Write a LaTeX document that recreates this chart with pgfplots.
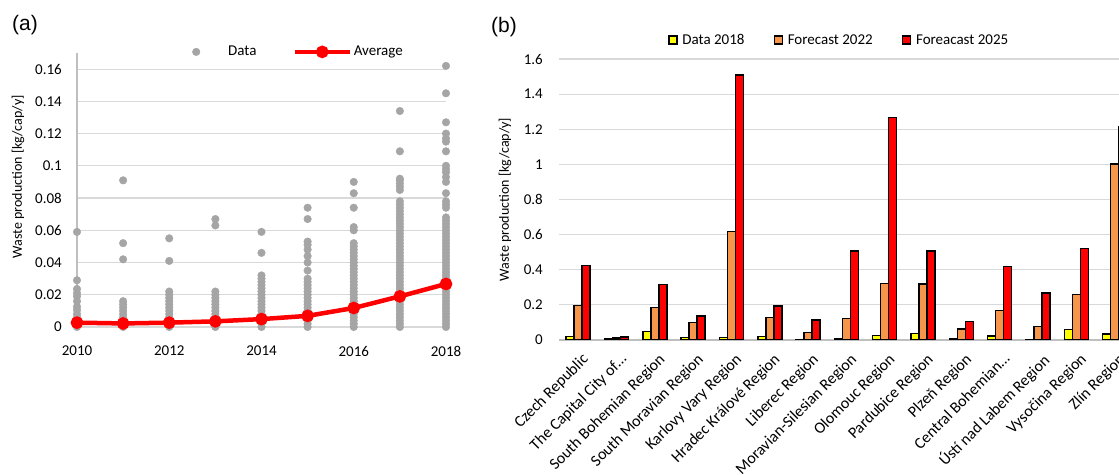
\documentclass[border=0pt]{standalone}
\usepackage{pgfplots}
\pgfplotsset{compat=1.18}
\usepackage{fontspec}
\setmainfont{Carlito}
\newfontfamily\arial{Liberation Sans}
\definecolor{dotgray}{RGB}{165,165,165}
\definecolor{gridgray}{RGB}{217,217,217}
\definecolor{axgray}{RGB}{191,191,191}
\definecolor{xlorange}{RGB}{245,150,75}
\definecolor{xlyellow}{RGB}{255,255,0}
\definecolor{xlred}{RGB}{255,0,0}
\newcommand\tf{\fontsize{15bp}{18bp}\selectfont}

\pgfplotsset{
  sqlegend/.style={legend image code/.code={
      \draw[##1,line width=1.5bp] (0bp,-4bp) rectangle (8bp,4bp);
      \path[draw=none,fill=none] (0bp,0bp) -- (13.5bp,0bp);}},
  datalegend/.style={legend image code/.code={
      \path[draw=none,fill=none] (-5bp,0bp) -- (32bp,0bp);
      \draw[##1] plot coordinates {(0bp,0bp)};}},
  avglegend/.style={legend image code/.code={
      \draw[##1] (0bp,0bp) -- (55bp,0bp);
      \draw[##1] plot coordinates {(27.5bp,0bp)};
      \path[draw=none,fill=none] (0bp,0bp) -- (59bp,0bp);}},
}

\begin{document}
\begin{tikzpicture}
\useasboundingbox (0,0) rectangle (1119bp,475bp);
\clip (0,0) rectangle (1119bp,475bp);

\node[anchor=west,inner sep=0pt] at (12bp,450bp) {\arial\fontsize{21bp}{24bp}\selectfont (a)};
\node[anchor=west,inner sep=0pt] at (491bp,448bp) {\arial\fontsize{21bp}{24bp}\selectfont (b)};

% ---------- (a) scatter ----------
\begin{axis}[
  at={(77bp,148bp)}, anchor=south west,
  scale only axis, width=369bp, height=274bp,
  xmin=2010, xmax=2018, ymin=0, ymax=0.17,
  clip=false,
  axis lines*=left,
  x axis line style={draw=none},
  y axis line style={axgray,line width=1.2bp},
  major tick length=0pt,
  xtick={2010,2012,2014,2016,2018},
  xticklabels={2010,2012,2014,2016,2018},
  ytick={0,0.02,0.04,0.06,0.08,0.1,0.12,0.14,0.16},
  yticklabels={0,0.02,0.04,0.06,0.08,0.1,0.12,0.14,0.16},
  ymajorgrids, grid style={gridgray,line width=1.2bp},
  tick label style={font=\tf},
  xticklabel style={inner sep=0pt,anchor=north,yshift=-19bp},
  yticklabel style={inner sep=0pt,anchor=east,xshift=-15bp},
  ylabel={Waste production [kg/cap/y]},
  every axis y label/.style={at={(axis description cs:-0.16,0.5485)},rotate=90,anchor=center,font=\fontsize{14bp}{16bp}\selectfont},
  legend columns=2,
  legend style={draw=none,fill=none,inner sep=0pt,
    at={(axis description cs:0.309,1.004)},anchor=west,
    nodes={inner sep=0pt,anchor=west},font=\tf,
    /tikz/every even column/.append style={column sep=36bp}},
]
\addplot[datalegend, only marks, mark=*, mark size=3.8bp, dotgray]
coordinates {
(2010,0) (2010,0.002) (2010,0.004) (2010,0.006) (2010,0.008) (2010,0.0105) (2010,0.0126)
(2010,0.016) (2010,0.019) (2010,0.021) (2010,0.0236) (2010,0.029) (2010,0.059)
(2011,0) (2011,0.002) (2011,0.004) (2011,0.006) (2011,0.008) (2011,0.010) (2011,0.012)
(2011,0.014) (2011,0.016) (2011,0.042) (2011,0.052) (2011,0.091)
(2012,0) (2012,0.002) (2012,0.004) (2012,0.006) (2012,0.008) (2012,0.010) (2012,0.012)
(2012,0.014) (2012,0.016) (2012,0.018) (2012,0.020) (2012,0.022) (2012,0.041) (2012,0.055)
(2013,0) (2013,0.002) (2013,0.004) (2013,0.006) (2013,0.008) (2013,0.010) (2013,0.012)
(2013,0.014) (2013,0.016) (2013,0.018) (2013,0.020) (2013,0.022) (2013,0.063) (2013,0.067)
(2014,0) (2014,0.002) (2014,0.004) (2014,0.006) (2014,0.008) (2014,0.010) (2014,0.012)
(2014,0.014) (2014,0.016) (2014,0.018) (2014,0.020) (2014,0.022) (2014,0.024) (2014,0.026)
(2014,0.028) (2014,0.030) (2014,0.032) (2014,0.046) (2014,0.059)
(2015,0) (2015,0.002) (2015,0.004) (2015,0.006) (2015,0.008) (2015,0.010) (2015,0.012)
(2015,0.014) (2015,0.016) (2015,0.018) (2015,0.020) (2015,0.022) (2015,0.024) (2015,0.026)
(2015,0.028) (2015,0.030) (2015,0.035) (2015,0.040) (2015,0.044) (2015,0.048) (2015,0.051)
(2015,0.053) (2015,0.067) (2015,0.074)
(2016,0) (2016,0.002) (2016,0.004) (2016,0.006) (2016,0.008) (2016,0.010) (2016,0.012)
(2016,0.014) (2016,0.016) (2016,0.018) (2016,0.020) (2016,0.022) (2016,0.024) (2016,0.026)
(2016,0.028) (2016,0.030) (2016,0.032) (2016,0.034) (2016,0.036) (2016,0.038) (2016,0.040)
(2016,0.042) (2016,0.044) (2016,0.046) (2016,0.048) (2016,0.050) (2016,0.052) (2016,0.060)
(2016,0.062) (2016,0.074) (2016,0.083) (2016,0.090)
(2017,0) (2017,0.002) (2017,0.004) (2017,0.006) (2017,0.008) (2017,0.010) (2017,0.012)
(2017,0.014) (2017,0.016) (2017,0.018) (2017,0.020) (2017,0.022) (2017,0.024) (2017,0.026)
(2017,0.028) (2017,0.030) (2017,0.032) (2017,0.034) (2017,0.036) (2017,0.038) (2017,0.040)
(2017,0.042) (2017,0.044) (2017,0.046) (2017,0.048) (2017,0.050) (2017,0.052) (2017,0.054)
(2017,0.056) (2017,0.058) (2017,0.060) (2017,0.062) (2017,0.064) (2017,0.066) (2017,0.068)
(2017,0.070) (2017,0.072) (2017,0.074) (2017,0.076) (2017,0.078) (2017,0.085) (2017,0.087)
(2017,0.089) (2017,0.091) (2017,0.092) (2017,0.109) (2017,0.134)
(2018,0) (2018,0.002) (2018,0.004) (2018,0.006) (2018,0.008) (2018,0.010) (2018,0.012)
(2018,0.014) (2018,0.016) (2018,0.018) (2018,0.020) (2018,0.022) (2018,0.024) (2018,0.026)
(2018,0.028) (2018,0.030) (2018,0.032) (2018,0.034) (2018,0.036) (2018,0.038) (2018,0.040)
(2018,0.042) (2018,0.044) (2018,0.046) (2018,0.048) (2018,0.050) (2018,0.052) (2018,0.054)
(2018,0.056) (2018,0.058) (2018,0.060) (2018,0.062) (2018,0.064) (2018,0.066) (2018,0.068)
(2018,0.074) (2018,0.076) (2018,0.078) (2018,0.083) (2018,0.090) (2018,0.093) (2018,0.096)
(2018,0.098) (2018,0.100) (2018,0.109) (2018,0.115) (2018,0.117) (2018,0.120) (2018,0.127)
(2018,0.145) (2018,0.162)
};
\addlegendentry{Data}
\addplot[avglegend, xlred, line width=4.5bp, mark=*, mark size=4bp]
coordinates {
(2010,0.0027) (2011,0.0022) (2012,0.0027) (2013,0.0035) (2014,0.0049)
(2015,0.0069) (2016,0.0118) (2017,0.0190) (2018,0.0267)
};
\addlegendentry{Average}
\end{axis}

% ---------- (b) bars ----------
\begin{axis}[
  at={(559bp,135bp)}, anchor=south west,
  scale only axis, width=574.8bp, height=281bp,
  xmin=-0.5, xmax=14.5, ymin=0, ymax=1.6,
  ybar=0pt, bar width=8bp,
  axis lines*=left,
  x axis line style={axgray,line width=1.2bp},
  y axis line style={draw=none},
  major tick length=0pt,
  xtick={0,1,2,3,4,5,6,7,8,9,10,11,12,13,14},
  xticklabels={Czech Republic,The Capital City of…,South Bohemian Region,South Moravian Region,
    Karlovy Vary Region,Hradec Králové Region,Liberec Region,Moravian-Silesian Region,
    Olomouc Region,Pardubice Region,Plzeň Region,Central Bohemian…,Ústí nad Labem Region,
    Vysočina Region,Zlín Region},
  ytick={0,0.2,0.4,0.6,0.8,1,1.2,1.4,1.6},
  yticklabels={0,0.2,0.4,0.6,0.8,1,1.2,1.4,1.6},
  ymajorgrids, grid style={gridgray,line width=1.2bp},
  tick label style={font=\tf},
  xticklabel style={inner sep=0pt,xshift=3bp,yshift=-12bp,rotate=45,anchor=north east,
    font=\fontsize{16bp}{18bp}\selectfont},
  yticklabel style={inner sep=0pt,anchor=east,xshift=-16bp},
  ylabel={Waste production [kg/cap/y]},
  every axis y label/.style={at={(axis description cs:-0.094,0.5)},rotate=90,anchor=center,font=\fontsize{14bp}{16bp}\selectfont},
  legend columns=3,
  legend style={draw=none,fill=none,inner sep=0pt,
    at={(axis description cs:0.1896,1.0676)},anchor=west,
    nodes={inner sep=0pt,anchor=west},font=\tf,
    /tikz/every even column/.append style={column sep=29bp}},
]
\addplot[sqlegend, draw=black, line width=1.5bp, fill=xlyellow] coordinates {
(0,0.019) (1,0.005) (2,0.048) (3,0.015) (4,0.015) (5,0.020) (6,0.003) (7,0.008)
(8,0.025) (9,0.036) (10,0.005) (11,0.023) (12,0.003) (13,0.061) (14,0.035)
};
\addlegendentry{Data 2018}
\addplot[sqlegend, draw=black, line width=1.5bp, fill=xlorange] coordinates {
(0,0.197) (1,0.010) (2,0.184) (3,0.100) (4,0.617) (5,0.127) (6,0.044) (7,0.121)
(8,0.321) (9,0.319) (10,0.063) (11,0.168) (12,0.078) (13,0.258) (14,1.003)
};
\addlegendentry{Forecast 2022}
\addplot[sqlegend, draw=black, line width=1.5bp, fill=xlred] coordinates {
(0,0.424) (1,0.016) (2,0.315) (3,0.136) (4,1.510) (5,0.195) (6,0.113) (7,0.508)
(8,1.266) (9,0.506) (10,0.105) (11,0.418) (12,0.269) (13,0.520) (14,1.215)
};
\addlegendentry{Foreacast 2025}
\end{axis}
\end{tikzpicture}
\end{document}
